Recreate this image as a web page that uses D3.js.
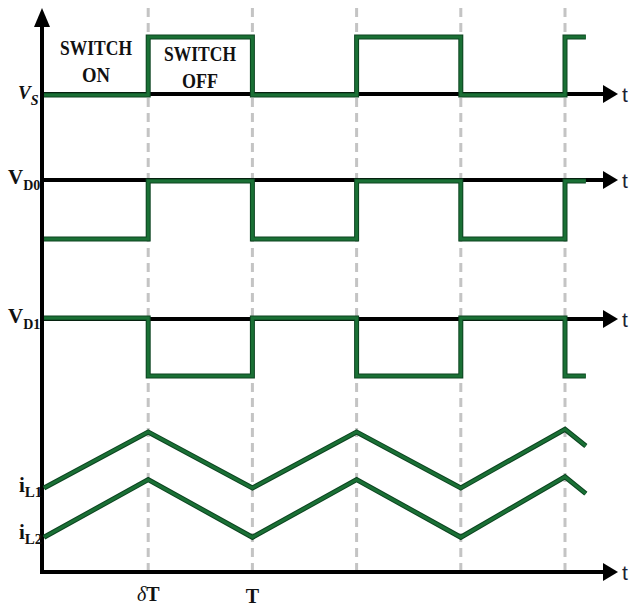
<!DOCTYPE html>
<html>
<head>
<meta charset="utf-8">
<script src="https://cdn.jsdelivr.net/npm/d3@7"></script>
<style>
  body { margin: 0; background: #fff; }
  svg { display: block; }
</style>
</head>
<body>
<div></div>
<script>
// time in units of deltaT (delta = 0.5, so T = 2 units)
const times = [0, 1, 2, 3, 4, 5, 5.2];
const vsLevels = [0, 1, 0, 1, 0, 1, 1];
const vd0Levels = [-1, 0, -1, 0, -1, 0, 0];
const vd1Levels = [0, -1, 0, -1, 0, -1, -1];
const iL1 = [1.5, 2.5, 1.5, 2.5, 1.5, 2.55, 2.25];
const iL2 = [0.62, 1.65, 0.62, 1.65, 0.62, 1.7, 1.4];
const gridTimes = [1, 2, 3, 4, 5];
const tickTimes = [1, 2];
const tickLabels = [['δ', 'T'], ['', 'T']];

const width = 637, height = 608;
const axisX = 42;
const green = '#1a7035', greenDark = '#0c4420';

const svg = d3.select('div').append('svg')
  .attr('width', width)
  .attr('height', height);

const x = d3.scaleLinear().domain([0, 5]).range([44, 565]);

const yVs = d3.scaleLinear().domain([0, 1]).range([95, 37]);
const yVd0 = d3.scaleLinear().domain([-1, 0]).range([239, 181]);
const yVd1 = d3.scaleLinear().domain([-1, 0]).range([376, 318]);
const yI = d3.scaleLinear().domain([0, 2.5]).range([572, 432]);

// dashed grid
svg.append('g').selectAll('line')
  .data(gridTimes)
  .enter()
  .append('line')
  .attr('x1', d => x(d)).attr('x2', d => x(d))
  .attr('y1', 8).attr('y2', 572)
  .attr('stroke', '#c4c4c4')
  .attr('stroke-width', 3)
  .attr('stroke-dasharray', '9,6');

// axes with arrows
const hAxes = [94, 180, 319, 572];
const axes = svg.append('g');
hAxes.forEach(y => {
  axes.append('line')
    .attr('x1', axisX - 2).attr('x2', 606)
    .attr('y1', y).attr('y2', y)
    .attr('stroke', '#000').attr('stroke-width', 4);
  axes.append('path')
    .attr('d', `M603,${y - 9}L618,${y}L603,${y + 9}Z`)
    .attr('fill', '#000');
  axes.append('text')
    .attr('x', 622).attr('y', y + 8)
    .attr('font-family', 'Liberation Sans, Arial, sans-serif')
    .attr('font-size', 21)
    .attr('fill', '#1b2233')
    .text('t');
});
axes.append('line')
  .attr('x1', axisX).attr('x2', axisX)
  .attr('y1', 24).attr('y2', 574)
  .attr('stroke', '#000').attr('stroke-width', 4);
axes.append('path')
  .attr('d', `M${axisX - 8},27L${axisX},8L${axisX + 8},27Z`)
  .attr('fill', '#000');

// waveforms
const stepLine = yScale => d3.line()
  .x((d, i) => x(times[i]))
  .y(d => yScale(d))
  .curve(d3.curveStepAfter);
const rampLine = d3.line()
  .x((d, i) => x(times[i]))
  .y(d => yI(d));

const traces = [
  [stepLine(yVs), vsLevels],
  [stepLine(yVd0), vd0Levels],
  [stepLine(yVd1), vd1Levels],
  [rampLine, iL1],
  [rampLine, iL2]
];
const wave = svg.append('g');
traces.forEach(([gen, vals]) => {
  wave.append('path')
    .attr('d', gen(vals))
    .attr('fill', 'none')
    .attr('stroke', greenDark)
    .attr('stroke-width', 5);
  wave.append('path')
    .attr('d', gen(vals))
    .attr('fill', 'none')
    .attr('stroke', green)
    .attr('stroke-width', 3);
});

// labels
const serif = 'Liberation Serif, Times New Roman, serif';
const labels = svg.append('g').attr('font-family', serif).attr('fill', '#111');

function subLabel(xp, yp, main, sub, opts) {
  const t = labels.append('text')
    .attr('x', xp).attr('y', yp)
    .attr('font-size', opts.size)
    .attr('font-weight', opts.weight)
    .attr('font-style', opts.style || 'normal');
  t.append('tspan').text(main);
  t.append('tspan')
    .attr('font-size', opts.subSize)
    .attr('dy', opts.dy)
    .text(sub);
}

subLabel(18, 99, 'V', 'S', { size: 19, subSize: 14, dy: 6, weight: 'bold', style: 'italic' });
subLabel(8, 184, 'V', 'D0', { size: 21, subSize: 14, dy: 6, weight: 'bold' });
subLabel(8, 323, 'V', 'D1', { size: 21, subSize: 14, dy: 6, weight: 'bold' });
subLabel(19, 492, 'i', 'L1', { size: 21, subSize: 15, dy: 5, weight: 'bold' });
subLabel(19, 539, 'i', 'L2', { size: 21, subSize: 15, dy: 5, weight: 'bold' });

const switchText = [
  { cx: 96, lines: ['SWITCH', 'ON'], y: 55 },
  { cx: 200, lines: ['SWITCH', 'OFF'], y: 61 }
];
switchText.forEach(s => {
  s.lines.forEach((ln, i) => {
    labels.append('text')
      .attr('x', s.cx).attr('y', s.y + i * 27)
      .attr('text-anchor', 'middle')
      .attr('font-size', 20)
      .attr('font-weight', 'bold')
      .attr('textLength', ln === 'SWITCH' ? 72 : (ln === 'ON' ? 28 : 36))
      .attr('lengthAdjust', 'spacingAndGlyphs')
      .text(ln);
  });
});

const ticks = labels.selectAll('.tick')
  .data(tickTimes)
  .enter()
  .append('text')
  .attr('class', 'tick')
  .attr('x', d => x(d))
  .attr('y', (d, i) => i === 0 ? 601 : 603)
  .attr('text-anchor', 'middle')
  .attr('font-size', 20)
  .attr('font-weight', 'bold');
ticks.append('tspan')
  .attr('font-style', 'italic')
  .attr('font-weight', 'normal')
  .text((d, i) => tickLabels[i][0]);
ticks.append('tspan')
  .text((d, i) => tickLabels[i][1]);
</script>
</body>
</html>
